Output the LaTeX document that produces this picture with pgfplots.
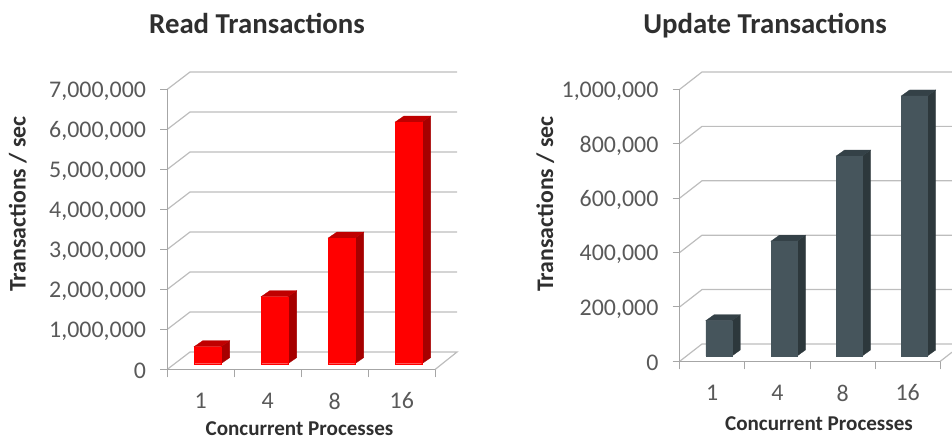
\documentclass[border=0pt]{standalone}
\usepackage{fontspec}
\setmainfont{Carlito}
\usepackage{pgfplots}
\pgfplotsset{compat=1.18}
\definecolor{gridc}{HTML}{BDBDBD}
\definecolor{axc}{HTML}{A6A6A6}
\definecolor{tickc}{HTML}{595959}
\definecolor{labc}{HTML}{2F2F2F}
\definecolor{rf}{HTML}{FF0000}
\definecolor{rs}{HTML}{A60000}
\definecolor{rt}{HTML}{BF0000}
\definecolor{gf}{HTML}{46555C}
\definecolor{gs}{HTML}{2D383C}
\definecolor{gt}{HTML}{344147}
\pgfplotsset{
  chart/.style={
    scale only axis, clip=false,
    axis line style={draw=none},
    tick align=outside, xtick pos=bottom, ytick pos=left,
    major tick length=7pt, minor tick length=8pt,
    ytick style={color=axc,line width=1pt},
    major x tick style={draw=none},
    minor x tick style={color=axc,line width=1pt},
    xtick={1,2,3,4}, xticklabels={1,4,8,16},
    minor xtick={0.5,1.5,2.5,3.5,4.5},
    scaled y ticks=false,
    tick label style={font=\fontsize{23.9}{24}\selectfont,text=tickc},
    yticklabel style={xshift=-10.8pt,yshift=-2pt,/pgf/number format/.cd,fixed,1000 sep={,},assume math mode=true},
    xticklabel style={yshift=-13pt},
    xmin=0.5,
  },
  g/.style={draw=gridc,line width=1.2pt},
  a/.style={draw=axc,line width=1.1pt},
  sl/.style={xshift=6.7pt,yshift=5.6pt},
  sr/.style={xshift=6.6pt,yshift=5.3pt},
}
\begin{document}
\begin{tikzpicture}[x=1pt,y=1pt]
\useasboundingbox (0,0) rectangle (952,441);
% ---------- Read
\begin{axis}[chart, at={(167.3pt,71.7pt)}, width=289.7pt, height=297.3pt,
  xmax=4.824, ymin=0, ymax=7432500,
  ytick={0,1000000,2000000,3000000,4000000,5000000,6000000,7000000}]
\addplot[g] coordinates {(0.5,0)(0.839,432500)(4.824,432500)(4.5,0)};
\addplot[g] coordinates {(0.5,1000000)(0.839,1432500)(4.824,1432500)};
\addplot[g] coordinates {(0.5,2000000)(0.839,2432500)(4.824,2432500)};
\addplot[g] coordinates {(0.5,3000000)(0.839,3432500)(4.824,3432500)};
\addplot[g] coordinates {(0.5,4000000)(0.839,4432500)(4.824,4432500)};
\addplot[g] coordinates {(0.5,5000000)(0.839,5432500)(4.824,5432500)};
\addplot[g] coordinates {(0.5,6000000)(0.839,6432500)(4.824,6432500)};
\addplot[g] coordinates {(0.5,7000000)(0.839,7432500)(4.824,7432500)};
\addplot[a] coordinates {(0.5,7000000)(0.5,0)(4.5,0)};
\addplot[sl,draw=rs,line width=0.3pt,fill=rs] coordinates {(1.2,0)(1.2,425000)(1.33,575000)(1.33,150000)} -- cycle;
\addplot[sl,draw=rt,line width=0.3pt,fill=rt] coordinates {(0.8,425000)(1.2,425000)(1.33,575000)(0.93,575000)} -- cycle;
\addplot[sl,draw=rs,line width=0.3pt,fill=rs] coordinates {(2.2,0)(2.2,1675000)(2.33,1825000)(2.33,150000)} -- cycle;
\addplot[sl,draw=rt,line width=0.3pt,fill=rt] coordinates {(1.8,1675000)(2.2,1675000)(2.33,1825000)(1.93,1825000)} -- cycle;
\addplot[sl,draw=rs,line width=0.3pt,fill=rs] coordinates {(3.2,0)(3.2,3140000)(3.33,3290000)(3.33,150000)} -- cycle;
\addplot[sl,draw=rt,line width=0.3pt,fill=rt] coordinates {(2.8,3140000)(3.2,3140000)(3.33,3290000)(2.93,3290000)} -- cycle;
\addplot[sl,draw=rs,line width=0.3pt,fill=rs] coordinates {(4.2,0)(4.2,6040000)(4.33,6190000)(4.33,150000)} -- cycle;
\addplot[sl,draw=rt,line width=0.3pt,fill=rt] coordinates {(3.8,6040000)(4.2,6040000)(4.33,6190000)(3.93,6190000)} -- cycle;
\addplot[sl,ybar,bar width=26.8pt,bar shift=0pt,draw=rf,line width=0.2pt,fill=rf] coordinates {(1,425000)(2,1675000)(3,3140000)(4,6040000)};
\end{axis}
% ---------- Update
\begin{axis}[chart, at={(679.7pt,79.7pt)}, width=272.3pt, height=289.3pt,
  xmax=4.68, ymin=0, ymax=1063600,
  ytick={0,200000,400000,600000,800000,1000000}]
\addplot[g] coordinates {(0.5,0)(0.842,63600)(4.68,63600)};
\addplot[g] coordinates {(4.5,0)(4.68,33500)};
\addplot[g] coordinates {(0.5,200000)(0.842,263600)(4.68,263600)};
\addplot[g] coordinates {(0.5,400000)(0.842,463600)(4.68,463600)};
\addplot[g] coordinates {(0.5,600000)(0.842,663600)(4.68,663600)};
\addplot[g] coordinates {(0.5,800000)(0.842,863600)(4.68,863600)};
\addplot[g] coordinates {(0.5,1000000)(0.842,1063600)(4.68,1063600)};
\addplot[a] coordinates {(0.5,1000000)(0.5,0)(4.5,0)};
\addplot[sr,draw=gs,line width=0.3pt,fill=gs] coordinates {(1.2,0)(1.2,130000)(1.328,152000)(1.328,22000)} -- cycle;
\addplot[sr,draw=gt,line width=0.3pt,fill=gt] coordinates {(0.8,130000)(1.2,130000)(1.328,152000)(0.928,152000)} -- cycle;
\addplot[sr,draw=gs,line width=0.3pt,fill=gs] coordinates {(2.2,0)(2.2,422000)(2.328,444000)(2.328,22000)} -- cycle;
\addplot[sr,draw=gt,line width=0.3pt,fill=gt] coordinates {(1.8,422000)(2.2,422000)(2.328,444000)(1.928,444000)} -- cycle;
\addplot[sr,draw=gs,line width=0.3pt,fill=gs] coordinates {(3.2,0)(3.2,735000)(3.328,757000)(3.328,22000)} -- cycle;
\addplot[sr,draw=gt,line width=0.3pt,fill=gt] coordinates {(2.8,735000)(3.2,735000)(3.328,757000)(2.928,757000)} -- cycle;
\addplot[sr,draw=gs,line width=0.3pt,fill=gs] coordinates {(4.2,0)(4.2,956000)(4.328,978000)(4.328,22000)} -- cycle;
\addplot[sr,draw=gt,line width=0.3pt,fill=gt] coordinates {(3.8,956000)(4.2,956000)(4.328,978000)(3.928,978000)} -- cycle;
\addplot[sr,ybar,bar width=25.8pt,bar shift=0pt,draw=gf,line width=0.2pt,fill=gf] coordinates {(1,130000)(2,422000)(3,735000)(4,956000)};
\end{axis}
% ---------- Texts
\node[anchor=base,inner sep=0pt,text=labc,font=\fontsize{28.8}{30}\bfseries] at (257,407) {Read Transactions};
\node[anchor=base,inner sep=0pt,text=labc,font=\fontsize{28.8}{30}\bfseries] at (765,407) {Update Transactions};
\node[anchor=base,inner sep=0pt,text=labc,font=\fontsize{23.8}{25}\bfseries,rotate=90] at (25.7,237) {Transactions / sec};
\node[anchor=base,inner sep=0pt,text=labc,font=\fontsize{23.8}{25}\bfseries,rotate=90] at (553,237) {Transactions / sec};
\node[anchor=base,inner sep=0pt,text=labc,font=\fontsize{21.1}{22}\bfseries] at (299.5,5.6) {Concurrent Processes};
\node[anchor=base,inner sep=0pt,text=labc,font=\fontsize{21.1}{22}\bfseries] at (819,10.5) {Concurrent Processes};
\end{tikzpicture}
\end{document}
